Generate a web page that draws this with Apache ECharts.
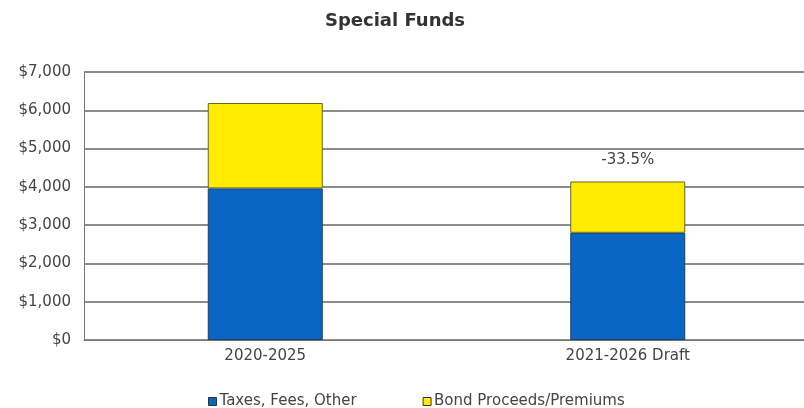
<!DOCTYPE html>
<html>
<head>
<meta charset="utf-8">
<script src="https://cdn.jsdelivr.net/npm/echarts@6/dist/echarts.min.js"></script>
<style>html,body{margin:0;padding:0;background:#fff;overflow:hidden}#c{width:804px;height:408px}</style>
</head>
<body>
<div id="c"></div>
<script>
const categories = ['2020-2025', '2021-2026 Draft'];
const taxesFeesOther = [3960, 2800];
const bondProceeds = [2230, 1340];
const changeLabels = ['', '-33.5%'];
const yTicks = [0, 1000, 2000, 3000, 4000, 5000, 6000, 7000];

const chart = echarts.init(document.getElementById('c'), null, {renderer: 'canvas'});
const font = 'DejaVu Sans, Liberation Sans, Arial, sans-serif';
chart.setOption({
  animation: false,
  title: {
    text: 'Special Funds', left: 390, top: 7, textAlign: 'center',
    textStyle: {fontFamily: font, fontSize: 18, fontWeight: 'bold', color: '#333'}
  },
  legend: {
    top: 389, left: 203, itemGap: 66, itemWidth: 8, itemHeight: 8, icon: 'rect',
    textStyle: {fontFamily: font, fontSize: 15, color: '#444', padding: [0,0,0,-2]},
    data: [
      {name: 'Taxes, Fees, Other', itemStyle: {borderColor: '#333', borderWidth: 1}},
      {name: 'Bond Proceeds/Premiums', itemStyle: {borderColor: '#333', borderWidth: 1}}
    ]
  },
  grid: {left: 84, width: 725, top: 72, bottom: 68, containLabel: false, outerBoundsMode: 'none'},
  xAxis: {
    type: 'category', data: categories,
    axisLine: {show: true, lineStyle: {color: '#777', width: 1}},
    axisTick: {show: false},
    axisLabel: {fontFamily: font, fontSize: 15, color: '#444', margin: 9}
  },
  yAxis: {
    type: 'value', min: yTicks[0], max: yTicks[yTicks.length-1], interval: 1000,
    axisLine: {show: true, lineStyle: {color: '#777', width: 1}},
    axisTick: {show: false},
    splitLine: {lineStyle: {color: '#666', width: 1.5}},
    axisLabel: {
      fontFamily: font, fontSize: 15, color: '#444', margin: 13,
      formatter: v => '$' + v.toLocaleString('en-US')
    }
  },
  series: [
    {
      name: 'Taxes, Fees, Other', type: 'bar', stack: 't', data: taxesFeesOther,
      barWidth: 115,
      itemStyle: {color: '#0966c3', borderColor: '#1a3f6a', borderWidth: 1}
    },
    {
      name: 'Bond Proceeds/Premiums', type: 'bar', stack: 't', data: bondProceeds,
      barWidth: 115,
      itemStyle: {color: '#ffec00', borderColor: '#6b6520', borderWidth: 1},
      label: {
        show: true, position: 'top', distance: 14,
        fontFamily: font, fontSize: 15, color: '#444',
        formatter: p => changeLabels[p.dataIndex]
      }
    }
  ]
});
</script>
</body>
</html>
